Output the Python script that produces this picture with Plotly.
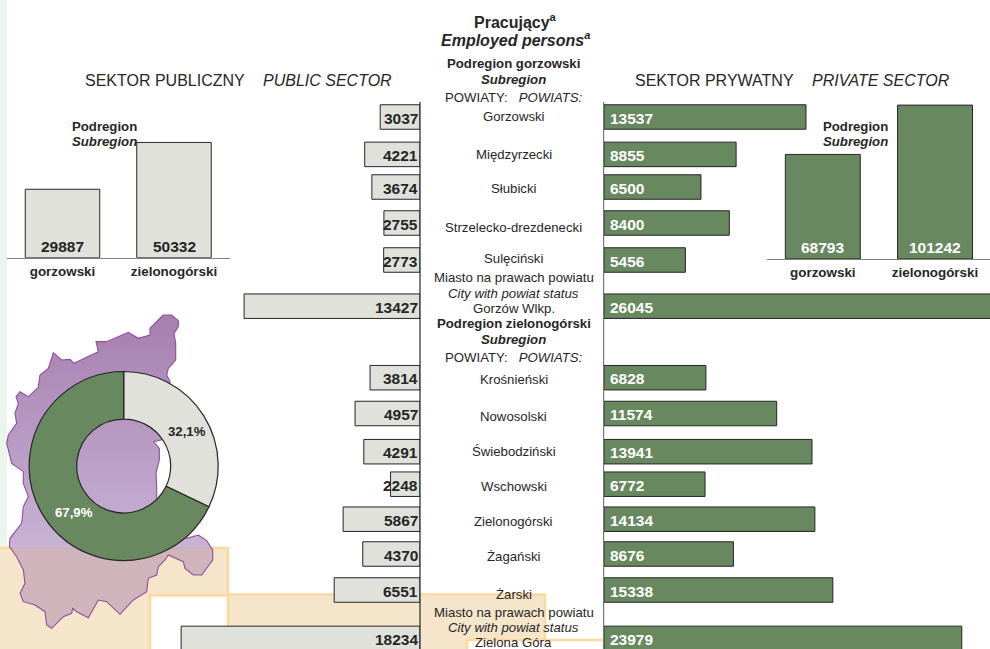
import plotly.graph_objects as go

# ---------- data ----------
gorzowski_names = ["Gorzowski", "Międzyrzecki", "Słubicki", "Strzelecko-drezdenecki", "Sulęciński", "Gorzów Wlkp."]
zielona_names = ["Krośnieński", "Nowosolski", "Świebodziński", "Wschowski", "Zielonogórski", "Żagański", "Żarski", "Zielona Góra"]
public_values = [3037, 4221, 3674, 2755, 2773, 13427, 3814, 4957, 4291, 2248, 5867, 4370, 6551, 18234]
private_values = [13537, 8855, 6500, 8400, 5456, 26045, 6828, 11574, 13941, 6772, 14134, 8676, 15338, 23979]
subregions = ["gorzowski", "zielonogórski"]
public_subregion = [29887, 50332]
private_subregion = [68793, 101242]
share_labels = ["sektor publiczny", "sektor prywatny"]
share_values = [32.1, 67.9]

# ---------- layout constants (page pixels) ----------
W, H = 990, 649
ROW_CENTRES = [117, 154.4, 187, 223, 260, 306.2, 377.7, 413.5, 451.7, 484.2, 519.2, 554, 590, 638.4]
BAR_H = 24.5
PUBLIC_COLOR = "#DFE1DA"
PRIVATE_COLOR = "#68885F"
DARK = "#262626"
FONT = "Liberation Sans"
ORANGE_FILL = "#F5E5CA"
ORANGE_LINE = "#FDD9A0"
CX = 513.5
S = 13.2

MAP_OUTLINE = [(490,45),(515,45),(535,62),(535,80),(522,100),(527,130),(527,180),(505,205),(500,225),(510,245),
    (505,415),(480,420),(460,425),(470,435),(478,445),(478,480),(468,520),(470,560),(470,600),(560,715),(595,705),(620,722),
    (638,750),(638,780),(605,825),(580,825),(555,805),(550,785),(505,765),(495,780),(475,800),(470,825),
    (445,835),(440,875),(400,900),(360,943),(320,905),(295,900),(265,953),(230,935),(218,925),(215,940),
    (190,950),(155,985),(140,975),(135,935),(105,915),(70,905),(60,880),(75,850),(70,810),(50,770),(28,740),
    (30,715),(65,670),(70,620),(85,590),(70,550),(70,515),(35,490),(20,430),(25,405),(50,370),(45,340),
    (55,310),(48,290),(60,275),(85,290),(115,262),(120,225),(145,205),(160,158),(185,180),(210,178),(222,190),
    (295,155),(288,125),(320,125),(385,97),(415,115),(450,105),(450,85),(490,45)]
map_x = [p[0] / 3 for p in MAP_OUTLINE]
map_y = [300 + p[1] / 3 for p in MAP_OUTLINE]

fig = go.Figure()


def rect(x0, y0, x1, y1, fill, line=None, lw=0):
    return dict(type="rect", xref="x", yref="y", x0=x0, y0=y0, x1=x1, y1=y1, fillcolor=fill,
                line=dict(color=line or fill, width=lw), layer="below")


shapes = [
    rect(0, 0, 7, 548, "#EAF5EE"),
    rect(-5, 548, 228, 660, ORANGE_FILL, ORANGE_LINE, 2.5),
    rect(228, 594.5, 545, 660, ORANGE_FILL, ORANGE_LINE, 2.5),
    rect(150, 595.5, 228, 660, "#FFFFFF", ORANGE_LINE, 2.5),
    rect(467, 640, 604, 660, "#FFFFFF", ORANGE_LINE, 2.5),
    dict(type="line", xref="x", yref="y", x0=420, x1=420, y0=102, y1=649, line=dict(color=DARK, width=1.2), layer="above"),
    dict(type="line", xref="x", yref="y", x0=603.6, x1=603.6, y0=102, y1=649, line=dict(color="#777777", width=1.2), layer="above"),
]

# map silhouette
fig.add_trace(go.Scatter(
    x=map_x, y=map_y, mode="lines", fill="toself", line=dict(color="#8E4F9A", width=1.1),
    fillgradient=dict(type="vertical", start=315, stop=630, colorscale=[
        [0, "rgb(166,127,175)"], [0.738, "rgb(200,178,213)"],
        [0.742, "rgba(182,148,178,0.6)"], [1, "rgba(182,148,178,0.6)"]]),
    xaxis="x", yaxis="y", showlegend=False, hoverinfo="skip"))

# powiat bars
fig.add_trace(go.Bar(
    x=public_values, y=ROW_CENTRES, orientation="h", width=BAR_H, xaxis="x2", yaxis="y",
    marker=dict(color=PUBLIC_COLOR, line=dict(color=DARK, width=1)),
    showlegend=False, hoverinfo="skip"))
fig.add_trace(go.Bar(
    x=private_values, y=ROW_CENTRES, orientation="h", width=BAR_H, xaxis="x3", yaxis="y",
    marker=dict(color=PRIVATE_COLOR, line=dict(color=DARK, width=1)),
    showlegend=False, hoverinfo="skip"))

# subregion bars
fig.add_trace(go.Bar(
    x=subregions, y=public_subregion, xaxis="x4", yaxis="y2",
    marker=dict(color=PUBLIC_COLOR, line=dict(color=DARK, width=1)),
    showlegend=False, hoverinfo="skip"))
fig.add_trace(go.Bar(
    x=subregions, y=private_subregion, xaxis="x5", yaxis="y3",
    marker=dict(color=PRIVATE_COLOR, line=dict(color=DARK, width=1)),
    showlegend=False, hoverinfo="skip"))

# donut
CXD, CYD, R = 123.7, 466, 94.5
fig.add_trace(go.Pie(
    labels=share_labels, values=share_values, hole=0.497, sort=False, direction="clockwise", rotation=0,
    marker=dict(colors=[PUBLIC_COLOR, PRIVATE_COLOR], line=dict(color=DARK, width=1.2)),
    textinfo="none", showlegend=False, hoverinfo="skip",
    domain=dict(x=[(CXD - R) / W, (CXD + R) / W], y=[1 - (CYD + R) / H, 1 - (CYD - R) / H])))


def txt(x, y, s, size=S, anchor="center", color=DARK):
    return dict(x=x, y=y, xref="x", yref="y", text=s, showarrow=False, xanchor=anchor, yanchor="middle",
                font=dict(family=FONT, size=size, color=color), borderpad=0, borderwidth=0)


def pct(v):
    return f"{v:.1f}".replace(".", ",") + "%"


ann = [
    txt(515, 21, "<b>Pracujący<sup>a</sup></b>", 16),
    txt(515, 39, "<b><i>Employed persons<sup>a</sup></i></b>", 16),
    txt(513.5, 63, "<b>Podregion gorzowski</b>"),
    txt(513.5, 79.5, "<b><i>Subregion</i></b>"),
    txt(513.5, 97.5, "POWIATY:   <i>POWIATS:</i>"),
    txt(85, 80, "SEKTOR PUBLICZNY", 16, "left"),
    txt(263, 80, "<i>PUBLIC SECTOR</i>", 16, "left"),
    txt(635, 80, "SEKTOR PRYWATNY", 16, "left"),
    txt(812, 80, "<i>PRIVATE SECTOR</i>", 16, "left"),
    txt(72, 126.5, "<b>Podregion</b>", S, "left"),
    txt(72, 141.5, "<b><i>Subregion</i></b>", S, "left"),
    txt(823, 126.5, "<b>Podregion</b>", S, "left"),
    txt(823, 141.5, "<b><i>Subregion</i></b>", S, "left"),
    txt(CX, 277.5, "Miasto na prawach powiatu"),
    txt(CX, 293.5, "<i>City with powiat status</i>"),
    txt(CX, 323.3, "<b>Podregion zielonogórski</b>"),
    txt(CX, 339, "<b><i>Subregion</i></b>"),
    txt(CX, 357.3, "POWIATY:   <i>POWIATS:</i>"),
    txt(CX, 612.7, "Miasto na prawach powiatu"),
    txt(CX, 627.7, "<i>City with powiat status</i>"),
    txt(186.7, 431.7, "<b>" + pct(share_values[0]) + "</b>"),
    txt(73.7, 512.3, "<b>" + pct(share_values[1]) + "</b>", color="#FFFFFF"),
]
name_rows_g = [116.7, 154.3, 188.3, 227.3, 258.3, 308]
name_rows_z = [379, 416, 451.7, 486, 521.3, 556, 594.3, 642.3]
for n, yy in zip(gorzowski_names + zielona_names, name_rows_g + name_rows_z):
    ann.append(txt(CX, yy, n))

# value labels fixed at the base of each powiat bar
for v, yy in zip(public_values, ROW_CENTRES):
    ann.append(dict(x=0, y=yy, xref="x2", yref="y", text=f"<b>{v}</b>", showarrow=False, xanchor="right",
                    yanchor="middle", xshift=-1, yshift=-1, font=dict(family=FONT, size=15.5, color=DARK), borderpad=0))
for v, yy in zip(private_values, ROW_CENTRES):
    ann.append(dict(x=0, y=yy, xref="x3", yref="y", text=f"<b>{v}</b>", showarrow=False, xanchor="left",
                    yanchor="middle", xshift=5, yshift=-1, font=dict(family=FONT, size=15.5, color="#FFFFFF"), borderpad=0))

# value labels at the base of the subregion bars
for i, v in enumerate(public_subregion):
    ann.append(dict(x=i, y=0, xref="x4", yref="y2", text=f"<b>{v}</b>", showarrow=False, xanchor="center",
                    yanchor="bottom", yshift=2, font=dict(family=FONT, size=15.5, color=DARK), borderpad=0))
for i, v in enumerate(private_subregion):
    ann.append(dict(x=i, y=0, xref="x5", yref="y3", text=f"<b>{v}</b>", showarrow=False, xanchor="center",
                    yanchor="bottom", yshift=2, font=dict(family=FONT, size=15.5, color="#FFFFFF"), borderpad=0))

hidden = dict(visible=False, fixedrange=True)
mini_x = dict(type="category", showline=True, linecolor="#808080", linewidth=1, ticks="", showgrid=False,
              zeroline=False, tickfont=dict(family=FONT, size=13.4, color=DARK, weight="bold"), ticklabelstandoff=1)

fig.update_layout(
    width=W, height=H, margin=dict(l=0, r=0, t=0, b=0), autosize=False,
    paper_bgcolor="#FFFFFF", plot_bgcolor="rgba(0,0,0,0)", hovermode=False, barmode="overlay",
    bargap=0.332, showlegend=False, shapes=shapes, annotations=ann,
    font=dict(family=FONT),
    xaxis=dict(domain=[0, 1], range=[0, W], **hidden),
    yaxis=dict(domain=[0, 1], range=[H, 0], **hidden),
    xaxis2=dict(domain=[0, 420 / W], range=[420 / 0.0131, 0], anchor="y", **hidden),
    xaxis3=dict(domain=[604 / W, 1], range=[0, 386 / 0.01492], anchor="y", **hidden),
    xaxis4=dict(domain=[6.75 / W, 229.75 / W], range=[-0.5, 1.5], anchor="y2", **mini_x),
    yaxis2=dict(domain=[1 - 257.7 / H, 1 - 130 / H], range=[0, 127.7 / 0.00229], anchor="x4", **hidden),
    xaxis5=dict(domain=[766.7 / W, 1], range=[-0.5, 1.49], anchor="y3", **mini_x),
    yaxis3=dict(domain=[1 - 259 / H, 1 - 100 / H], range=[0, 159 / 0.00152], anchor="x5", **hidden),
)

fig.write_html("out.html", config=dict(displayModeBar=False),
               post_script="document.body.style.margin='0';")
